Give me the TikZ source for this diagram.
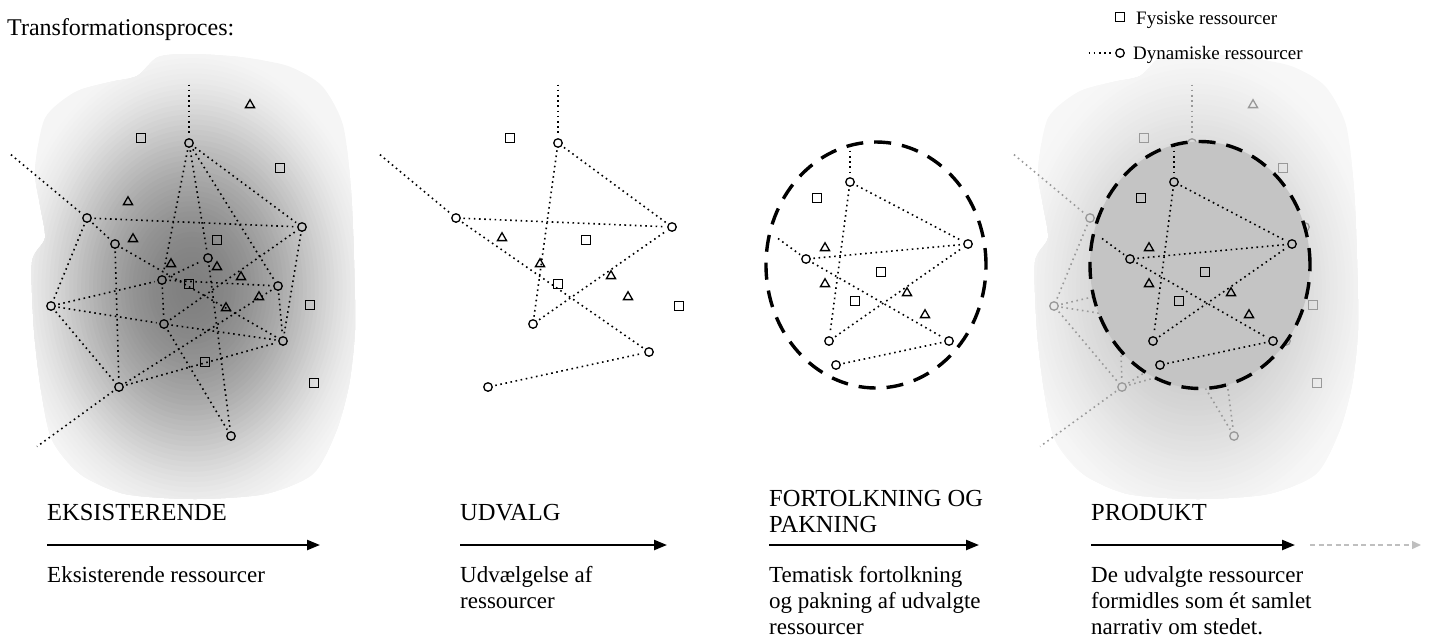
\documentclass[tikz,border=0pt]{standalone}
\usepackage{fontspec}
\setmainfont{Liberation Serif}
\usetikzlibrary{shapes.geometric,arrows.meta}
\colorlet{netc}{black}
\newcommand{\blobpath}{plot[smooth cycle,tension=0.45] coordinates {(137,76) (158,57) (190,54) (240,57) (288,66) (322,86) (343,125) (351,190) (354,260) (355,330) (349,385) (336,432) (313,474) (265,494) (195,499) (125,494) (80,474) (52,440) (41,390) (34,330) (32,262) (45,238) (40,205) (35,170) (45,118) (75,92) (110,82)}}
% layered radial fade: #1 = outer percent, #2 = extra percent at centre, #3 = exponent
\newcommand{\blobfade}[3]{%
  \foreach \i in {48,47,...,1} {%
    \pgfmathsetmacro\rr{\i/48}%
    \pgfmathsetmacro\pct{#1+#2*(1-\rr*\rr)^#3}%
    \pgfmathsetmacro\rx{190*\rr}%
    \pgfmathsetmacro\ry{245*\rr}%
    \fill[black!\pct] (192,288) ellipse (\rx pt and \ry pt);
  }%
}
\newcommand{\netA}{%
  \node[res] (A) at (189,143) {};
  \node[res] (B) at (87,218) {};
  \node[res] (C) at (115,244) {};
  \node[res] (D) at (302,227) {};
  \node[res] (E) at (208,258) {};
  \node[res] (F) at (162,280) {};
  \node[res] (G) at (278,286) {};
  \node[res] (H) at (51,306) {};
  \node[res] (I) at (164,324) {};
  \node[res] (J) at (283,341) {};
  \node[res] (K) at (119,387) {};
  \node[res] (L) at (231,436) {};
  \coordinate (At) at (189,82);
  \coordinate (Bt) at (9,153);
  \coordinate (Kt) at (35,448);
  \foreach \u/\v in {At/A,Bt/B,K/Kt,A/D,A/F,A/E,A/G,B/D,B/H,B/C,C/J,C/K,H/F,H/I,H/K,F/E,F/G,F/I,I/D,I/J,I/L,E/L,K/J,K/G,G/J,D/J}
    \draw[link] (\u) -- (\v);
  \node[fys] (s1) at (141,138) {};
  \node[fys] (s2) at (280,168) {};
  \node[fys] (s3) at (217,240) {};
  \node[fys] (s4) at (189,284) {};
  \node[fys] (s5) at (310,305) {};
  \node[fys] (s6) at (205,362) {};
  \node[fys] (s7) at (314,383) {};
  \node[tri] (t1) at (250,105) {};
  \node[tri] (t2) at (128,202) {};
  \node[tri] (t3) at (133,239) {};
  \node[tri] (t4) at (171,264) {};
  \node[tri] (t5) at (217,267) {};
  \node[tri] (t6) at (241,277) {};
  \node[tri] (t7) at (259,297) {};
  \node[tri] (t8) at (226,308) {};
}
\newcommand{\netC}{%
  \node[res] (Q1) at (850,182) {};
  \node[res] (Q2) at (968,244) {};
  \node[res] (Q3) at (806,259) {};
  \node[res] (Q4) at (829,341) {};
  \node[res] (Q5) at (949,341) {};
  \node[res] (Q6) at (836,365) {};
  \coordinate (Qt) at (850,143);
  \coordinate (Ql) at (776,237);
  \foreach \u/\v in {Qt/Q1,Q1/Q2,Q1/Q4,Ql/Q3,Q3/Q2,Q3/Q5,Q4/Q2,Q6/Q5}
    \draw[link] (\u) -- (\v);
  \node[fys] (r1) at (817,198) {};
  \node[fys] (r2) at (881,272) {};
  \node[fys] (r3) at (855,301) {};
  \node[tri] (u1) at (825,248) {};
  \node[tri] (u2) at (825,284) {};
  \node[tri] (u3) at (907,293) {};
  \node[tri] (u4) at (925,315) {};
}
\begin{document}
\begin{tikzpicture}[x=1pt,y=-1pt,
  res/.style={circle,draw=netc,line width=1.3pt,minimum size=8.5pt,inner sep=0pt},
  fys/.style={rectangle,draw=netc,line width=1.4pt,minimum size=8.5pt,inner sep=0pt},
  tri/.style={regular polygon,regular polygon sides=3,draw=netc,line width=1.3pt,minimum size=10.5pt,inner sep=0pt},
  link/.style={draw=netc,line width=1.6pt,dash pattern=on 1.6pt off 3.6pt,shorten <=2.5pt,shorten >=2.5pt},
  head/.style={anchor=base west,inner sep=0pt,font=\fontsize{24.5}{28}\selectfont},
  body/.style={anchor=base west,inner sep=0pt,font=\fontsize{23}{26}\selectfont},
  legtxt/.style={anchor=base west,inner sep=0pt,font=\fontsize{19}{22}\selectfont},
  flow/.style={draw=black,line width=2.3pt,-{Triangle[length=13pt,width=10pt]}},
  nextflow/.style={draw=black!25,line width=1.4pt,dash pattern=on 5pt off 3.5pt,-{Triangle[length=9pt,width=8pt]}},
  ring/.style={draw=black,line width=3.4pt,dash pattern=on 17pt off 11pt}]
\useasboundingbox (0,0) rectangle (1430,638);
% panel 1 background
\begin{scope}
  \clip \blobpath;
  \fill[black!4] (0,40) rectangle (380,520);
  \blobfade{4}{46}{1.8}
\end{scope}
\netA
% panel 2
\node[res] (Pa) at (558,143) {};
\node[res] (Pb) at (456,218) {};
\node[res] (Pc) at (672,227) {};
\node[res] (Pd) at (533,324) {};
\node[res] (Pe) at (649,352) {};
\node[res] (Pf) at (488,387) {};
\coordinate (Pt) at (558,82);
\coordinate (Pl) at (378,153);
\foreach \u/\v in {Pt/Pa,Pl/Pb,Pb/Pc,Pa/Pc,Pa/Pd,Pb/Pe,Pd/Pc,Pf/Pe}
  \draw[link] (\u) -- (\v);
\node[fys] (p1) at (510,138) {};
\node[fys] (p2) at (586,240) {};
\node[fys] (p3) at (558,284) {};
\node[fys] (p4) at (679,306) {};
\node[tri] (q1) at (502,238) {};
\node[tri] (q2) at (540,264) {};
\node[tri] (q3) at (611,276) {};
\node[tri] (q4) at (628,297) {};
% panel 3
\draw[ring] (876,265) ellipse (110pt and 123pt);
\netC
% panel 4
\begin{scope}[xshift=1003pt]
  \clip \blobpath;
  \fill[black!3] (0,40) rectangle (380,520);
  \blobfade{3}{21}{1.6}
\end{scope}
\begin{scope}[xshift=1003pt,name prefix=g-]
  \colorlet{netc}{black!40}
  \netA
\end{scope}
\filldraw[fill=black!23,ring] (1200,265) ellipse (110pt and 123.5pt);
\begin{scope}[xshift=324pt,name prefix=h-]
  \netC
\end{scope}
% legend
\node[fys,minimum size=9pt] (legsq) at (1120,17) {};
\node[legtxt] (legt1) at (1136,24) {Fysiske ressourcer};
\node[res] (legci) at (1120,53) {};
\coordinate (legs) at (1086,53);
\draw[link] (legs) -- (legci);
\node[legtxt] (legt2) at (1133,59) {Dynamiske ressourcer};
% title
\node[anchor=base west,inner sep=0pt,font=\fontsize{24}{28}\selectfont] (title) at (7,35) {Transformationsproces:};
% headings, arrows, descriptions
\node[head] (h1) at (47,520) {EKSISTERENDE};
\node[head] (h2) at (460,520) {UDVALG};
\node[head] (h3a) at (769,506) {FORTOLKNING OG};
\node[head] (h3b) at (769,532) {PAKNING};
\node[head] (h4) at (1091,520) {PRODUKT};
\coordinate (f1s) at (47,545); \coordinate (f1e) at (320,545);
\coordinate (f2s) at (460,545); \coordinate (f2e) at (667,545);
\coordinate (f3s) at (769,545); \coordinate (f3e) at (979,545);
\coordinate (f4s) at (1091,545); \coordinate (f4e) at (1295,545);
\coordinate (f5s) at (1310,545); \coordinate (f5e) at (1421,545);
\draw[flow] (f1s) -- (f1e);
\draw[flow] (f2s) -- (f2e);
\draw[flow] (f3s) -- (f3e);
\draw[flow] (f4s) -- (f4e);
\draw[nextflow] (f5s) -- (f5e);
\node[body] (b1) at (47,582) {Eksisterende ressourcer};
\node[body] (b2a) at (460,582) {Udvælgelse af};
\node[body] (b2b) at (460,608) {ressourcer};
\node[body] (b3a) at (769,582) {Tematisk fortolkning};
\node[body] (b3b) at (769,608) {og pakning af udvalgte};
\node[body] (b3c) at (769,634) {ressourcer};
\node[body] (b4a) at (1091,582) {De udvalgte ressourcer};
\node[body] (b4b) at (1091,608) {formidles som ét samlet};
\node[body] (b4c) at (1091,634) {narrativ om stedet.};
\end{tikzpicture}
\end{document}
